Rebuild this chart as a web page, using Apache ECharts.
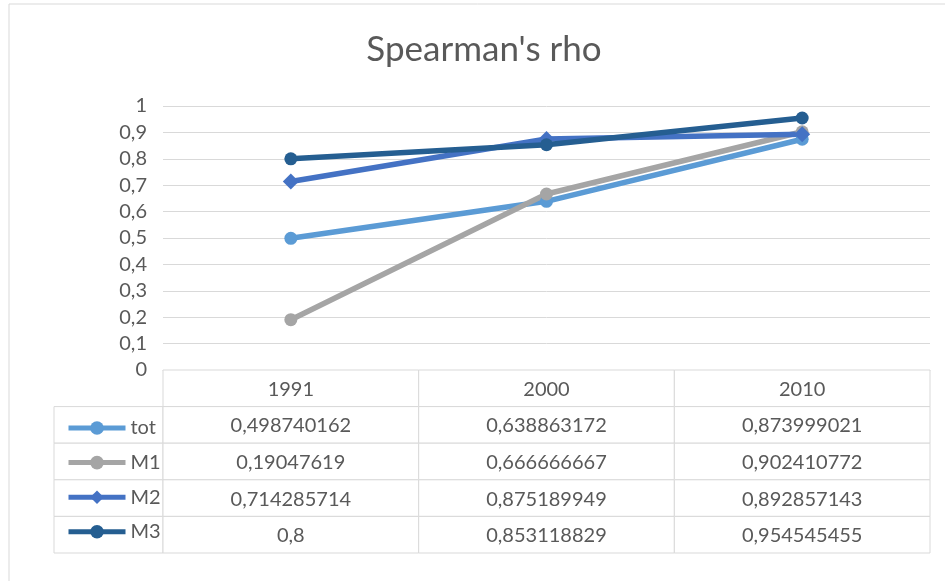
<!DOCTYPE html>
<html>
<head>
<meta charset="utf-8">
<script src="https://cdn.jsdelivr.net/npm/echarts@6/dist/echarts.min.js"></script>
<style>
  html, body { margin: 0; padding: 0; background: #fff; }
  #main { width: 945px; height: 581px; }
</style>
</head>
<body>
<div id="main"></div>
<script>
// data
const categories = ["1991", "2000", "2010"];
const seriesNames = ["tot", "M1", "M2", "M3"];
const tot = [0.498740162, 0.638863172, 0.873999021];
const m1 = [0.19047619, 0.666666667, 0.902410772];
const m2 = [0.714285714, 0.875189949, 0.892857143];
const m3 = [0.8, 0.853118829, 0.954545455];
const yMin = 0, yMax = 1, yStep = 0.1;

const colors = ["#5B9BD5", "#A5A5A5", "#4472C4", "#255E91"];
const symbols = ["circle", "circle", "diamond", "circle"];
const values = [tot, m1, m2, m3];
const FONT = "Lato";
const TXT = "#595959";
const LINE = "#D9D9D9";

const fmt = v => String(v).replace(".", ",");

// table cells: header row (row 0) + one row per series
const tableData = [];
const tableText = [];
categories.forEach((c, i) => {
  tableData.push([i, 0]);
  tableText.push(c);
});
values.forEach((arr, r) => {
  arr.forEach((v, i) => {
    tableData.push([i, r + 1]);
    tableText.push(fmt(v));
  });
});

const legendColWidth = 109;

const chart = echarts.init(document.getElementById("main"));

const lineSeries = seriesNames.map((name, k) => ({
  name: name,
  type: "line",
  data: values[k],
  symbol: symbols[k],
  symbolSize: symbols[k] === "diamond" ? 16 : 13,
  lineStyle: { width: 5.5, color: colors[k] },
  itemStyle: { color: colors[k] },
  color: colors[k],
}));

const option = {
  animation: false,
  textStyle: { fontFamily: FONT },
  title: {
    text: "Spearman's rho",
    left: 479,
    top: 27,
    textAlign: "center",
    textStyle: { fontFamily: FONT, fontSize: 35, fontWeight: "normal", color: TXT },
  },
  legend: {
    data: seriesNames,
    orient: "vertical",
    left: 61,
    top: 413,
    itemWidth: 57,
    itemHeight: 17,
    itemGap: 14.6,
    lineStyle: { width: 5 },
    textStyle: { fontFamily: FONT, fontSize: 20, color: TXT, padding: [0, 0, 3, 0] },
  },
  graphic: [
    {
      type: "rect",
      shape: { x: 9, y: 4, width: 1000, height: 1000 },
      style: { fill: "none", stroke: LINE, lineWidth: 1 },
      silent: true,
    },
  ],
  grid: [
    { left: 163, right: 15, top: 106, bottom: 211 },
    { left: 163, right: 15, top: 370, height: 183 },
  ],
  xAxis: [
    {
      type: "category",
      data: categories,
      boundaryGap: true,
      axisLine: { show: true, lineStyle: { color: LINE } },
      axisTick: { show: false },
      axisLabel: { show: false },
    },
    {
      type: "category",
      gridIndex: 1,
      data: categories,
      show: false,
    },
  ],
  yAxis: [
    {
      type: "value",
      min: yMin,
      max: yMax,
      interval: yStep,
      axisLine: { show: false },
      axisTick: { show: false },
      splitLine: { lineStyle: { color: LINE, width: 1 } },
      axisLabel: {
        margin: 16,
        fontFamily: FONT,
        fontSize: 20,
        color: TXT,
        formatter: v => fmt(+v.toFixed(1)),
      },
    },
    {
      type: "category",
      gridIndex: 1,
      data: [""].concat(seriesNames),
      inverse: true,
      show: false,
    },
  ],
  series: lineSeries.concat([
    {
      type: "custom",
      xAxisIndex: 1,
      yAxisIndex: 1,
      silent: true,
      data: tableData,
      renderItem: (params, api) => {
        const xi = api.value(0), yi = api.value(1);
        const c = api.coord([xi, yi]);
        const s = api.size([1, 1]);
        const children = [
          {
            type: "rect",
            shape: { x: c[0] - s[0] / 2, y: c[1] - s[1] / 2, width: s[0], height: s[1] },
            style: { fill: "#fff", stroke: LINE, lineWidth: 1 },
          },
          {
            type: "text",
            x: c[0],
            y: c[1] + 1,
            style: {
              text: tableText[params.dataIndex],
              align: "center",
              verticalAlign: "middle",
              font: "20px " + FONT,
              fill: TXT,
            },
          },
        ];
        if (xi === 0 && yi > 0) {
          children.unshift({
            type: "rect",
            shape: { x: c[0] - s[0] / 2 - legendColWidth, y: c[1] - s[1] / 2, width: legendColWidth, height: s[1] },
            style: { fill: "#fff", stroke: LINE, lineWidth: 1 },
          });
        }
        return { type: "group", children: children };
      },
      z: 1,
    },
  ]),
};

chart.setOption(option);
</script>
</body>
</html>
